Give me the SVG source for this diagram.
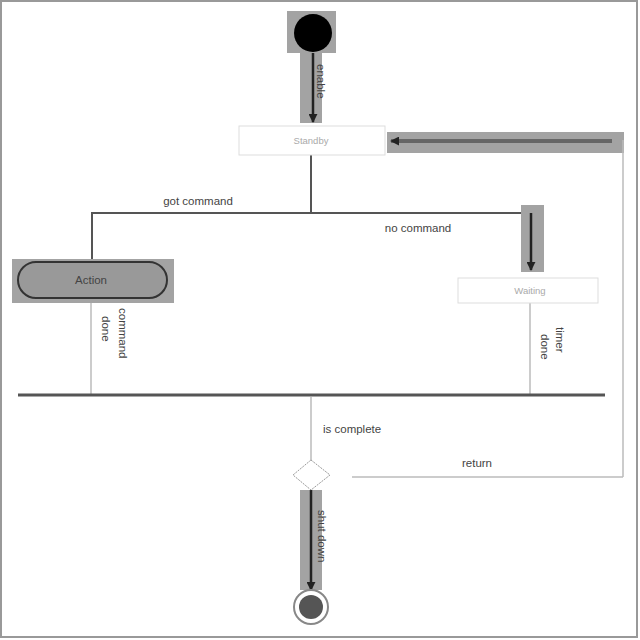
<svg xmlns="http://www.w3.org/2000/svg" width="640" height="640" viewBox="0 0 640 640">
<style>
text{font-family:"Liberation Sans",Arial,sans-serif;font-size:11.5px;fill:#444}
.hl{fill:#a3a3a3}
.ln{stroke:#555;stroke-width:2;fill:none}
.lt{stroke:#bbb;stroke-width:1.5;fill:none}
.dk{stroke:#222;stroke-width:2.5;fill:none}
.box{fill:#fff;stroke:#ddd;stroke-width:1}
.bt{fill:#aaa;font-size:9.5px}
</style>
<defs>
<marker id="ah" viewBox="0 0 10 10" refX="9" refY="5" markerWidth="9" markerHeight="9" markerUnits="userSpaceOnUse" orient="auto"><path d="M0,0 L10,5 L0,10 z" fill="#222"/></marker>
</defs>
<rect x="0" y="0" width="640" height="640" fill="#fff"/>
<rect x="1" y="1" width="636" height="636" fill="none" stroke="#999" stroke-width="2"/>
<g id="connectors">
<rect class="hl" x="300" y="53" width="22" height="70"/>
<line class="dk" x1="313" y1="53" x2="313" y2="122" marker-end="url(#ah)"/>
<text transform="translate(317,64) rotate(90)">enable</text>
<rect class="hl" x="387" y="132" width="237" height="21"/>
<line class="lt" x1="623" y1="140" x2="623" y2="477"/>
<polyline points="623,477 352,477" class="lt"/>
<line x1="612" y1="141" x2="391" y2="141" stroke="#666" stroke-width="4" marker-end="url(#ah)"/>
<text x="477" y="467" text-anchor="middle">return</text>
<line class="ln" x1="311" y1="155" x2="311" y2="213"/>
<polyline class="ln" points="92,262 92,213 531,213"/>
<text x="198" y="205" text-anchor="middle">got command</text>
<rect class="hl" x="521" y="205" width="23" height="67"/>
<polyline class="dk" points="531,213 531,270" marker-end="url(#ah)"/>
<text x="418" y="232" text-anchor="middle">no command</text>
<line class="lt" x1="91" y1="300" x2="91" y2="394"/>
<text transform="translate(102,316) rotate(90)">done</text>
<text transform="translate(119,308) rotate(90)">command</text>
<line class="lt" x1="530" y1="303" x2="530" y2="394"/>
<text transform="translate(541,334) rotate(90)">done</text>
<text transform="translate(556,327) rotate(90)">timer</text>
<line x1="18" y1="395" x2="605" y2="395" stroke="#555" stroke-width="3"/>
<line class="lt" x1="311" y1="397" x2="311" y2="460"/>
<text x="323" y="433">is complete</text>
<rect class="hl" x="300" y="490" width="22" height="100"/>
<line class="dk" x1="311" y1="490" x2="311" y2="590" marker-end="url(#ah)"/>
<text transform="translate(318,510) rotate(90)">shut down</text>
</g>
<g id="start">
<rect class="hl" x="287" y="11" width="49" height="42"/>
<circle cx="313" cy="33" r="19" fill="#000"/>
</g>
<g id="idle">
<rect class="box" x="239" y="126" width="146" height="29"/>
<text class="bt" x="311" y="144" text-anchor="middle">Standby</text>
</g>
<g id="action">
<rect class="hl" x="12" y="259" width="162" height="44"/>
<rect x="18" y="262" width="149" height="36" rx="18" fill="#999" stroke="#333" stroke-width="2"/>
<text x="91" y="284" text-anchor="middle" fill="#222" font-size="12px">Action</text>
</g>
<g id="wait">
<rect class="box" x="458" y="278" width="140" height="25"/>
<text class="bt" x="530" y="294" text-anchor="middle">Waiting</text>
</g>
<g id="decision">
<polygon points="311,460 330,475 311,490 293,475" fill="#fff" stroke="#999" stroke-width="1" stroke-dasharray="2,1"/>
</g>
<g id="final">
<circle cx="311" cy="607" r="17" fill="#fff" stroke="#888" stroke-width="2"/>
<circle cx="311" cy="607" r="12" fill="#555"/>
</g>
</svg>
